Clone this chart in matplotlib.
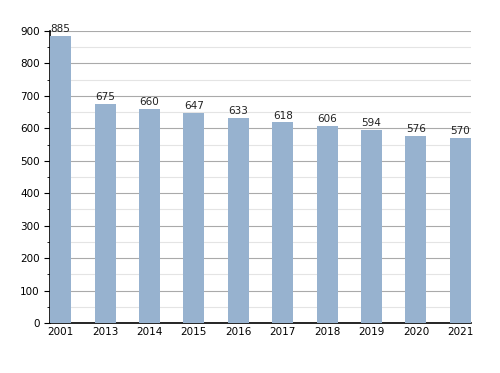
import matplotlib.pyplot as plt
import numpy as np

years = ["2001", "2013", "2014", "2015", "2016", "2017", "2018", "2019", "2020", "2021"]
values = [885, 675, 660, 647, 633, 618, 606, 594, 576, 570]

fig = plt.figure(figsize=(5, 3.73), dpi=100)
ax = fig.add_axes([0.1, 0.134, 0.842, 0.783])

x = np.arange(len(years))
ax.bar(x, values, width=0.47, color="#97b2cf", zorder=3)
for xi, v in zip(x, values):
    ax.text(xi, v + 6, str(v), ha="center", va="bottom", fontsize=7.5, color="#222222")

ax.set_xlim(-0.24, 9.24)
ax.set_ylim(0, 900)
ax.set_xticks(x)
ax.set_xticklabels(years)
ax.set_yticks(np.arange(0, 901, 100))
ax.set_yticks(np.arange(50, 900, 100), minor=True)
ax.tick_params(axis="x", length=0, labelsize=7.5, pad=3)
ax.tick_params(axis="y", which="major", length=4, labelsize=7.5, direction="out")
ax.tick_params(axis="y", which="minor", length=2.5)
ax.grid(axis="y", which="major", color="#aaaaaa", linewidth=0.8, zorder=0)
ax.grid(axis="y", which="minor", color="#e4e4e4", linewidth=0.8, zorder=0)
for s in ["top", "right"]:
    ax.spines[s].set_visible(False)
ax.spines["left"].set_linewidth(1.2)
ax.spines["bottom"].set_linewidth(1.2)

fig.savefig("out.png", dpi=100)
